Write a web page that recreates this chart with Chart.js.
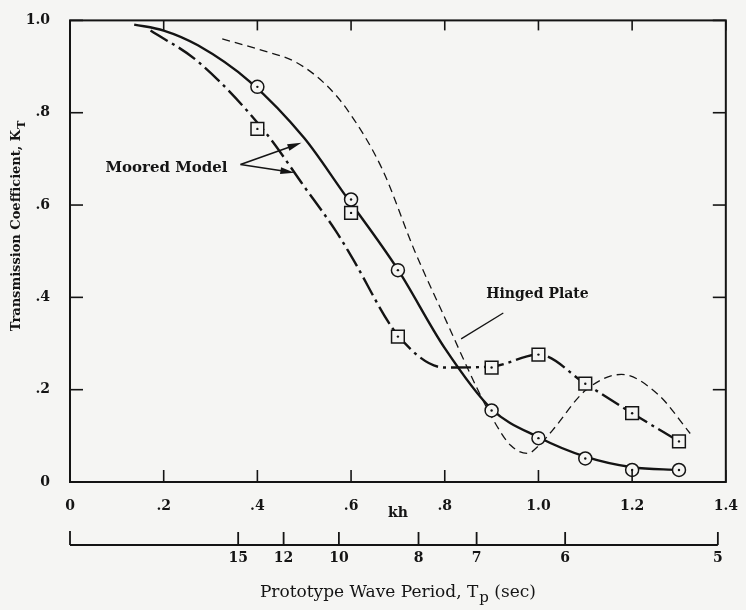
<!DOCTYPE html>
<html>
<head>
<meta charset="utf-8">
<script src="https://cdn.jsdelivr.net/npm/chart.js@4.4.1/dist/chart.umd.min.js"></script>
<style>
  html, body { margin: 0; padding: 0; background: #f5f5f3; }
</style>
</head>
<body>
<canvas id="chart" width="746" height="610"></canvas>
<script>
// measured points (kh, K_T)
const markKh = [0.4, 0.6, 0.7, 0.9, 1.0, 1.1, 1.2, 1.3];
const circleKT = [0.856, 0.612, 0.459, 0.155, 0.095, 0.051, 0.026, 0.026];
const squareKT = [0.765, 0.583, 0.315, 0.248, 0.276, 0.213, 0.149, 0.088];

// faired curves
const solidKh = [0.137, 0.2, 0.273, 0.383, 0.5, 0.582, 0.7, 0.8, 0.9, 1.0, 1.1, 1.2, 1.3];
const solidKT = [0.991, 0.978, 0.946, 0.868, 0.745, 0.629, 0.46, 0.29, 0.158, 0.097, 0.055, 0.032, 0.026];

const dashDotKh = [0.172, 0.273, 0.416, 0.5, 0.568, 0.6, 0.7, 0.8, 0.9, 1.0, 1.1, 1.2, 1.3];
const dashDotKT = [0.978, 0.911, 0.759, 0.64, 0.543, 0.49, 0.318, 0.248, 0.25, 0.276, 0.213, 0.149, 0.088];

const hingedKh = [0.325, 0.4, 0.483, 0.547, 0.595, 0.666, 0.736, 0.8, 0.868, 0.904, 0.94, 0.977, 1.0, 1.03, 1.1, 1.177, 1.255, 1.324];
const hingedKT = [0.96, 0.938, 0.909, 0.86, 0.802, 0.679, 0.5, 0.356, 0.205, 0.134, 0.08, 0.062, 0.078, 0.112, 0.198, 0.233, 0.19, 0.105];

// second scale: prototype wave period (sec) at its kh position
const periodSec = [15, 12, 10, 8, 7, 6, 5];
const periodKh = [0.359, 0.456, 0.574, 0.744, 0.868, 1.057, 1.383];

const ink = '#141414';
const serif = '"DejaVu Serif", serif';

const pts = (xs, ys) => xs.map((v, i) => ({ x: v, y: ys[i] }));
const fmt = v => {
    const r = Math.round(v * 10) / 10;
    if (r === 0) return '0';
    const s = r.toFixed(1);
    return r < 1 ? s.slice(1) : s;
};

// text with a subscript in the middle, centered on x
function subText(ctx, main, sub, tail, x, y, font, subFont) {
    ctx.font = font;
    const w1 = ctx.measureText(main).width;
    const w3 = ctx.measureText(tail).width;
    ctx.font = subFont;
    const w2 = ctx.measureText(sub).width;
    const left = x - (w1 + w2 + w3 + 1) / 2;
    ctx.textAlign = 'left';
    ctx.textBaseline = 'middle';
    ctx.font = font;
    ctx.fillText(main, left, y);
    ctx.fillText(tail, left + w1 + w2 + 1, y);
    ctx.font = subFont;
    ctx.fillText(sub, left + w1 + 1, y + 5);
}

function arrow(ctx, x1, y1, x2, y2) {
    const ang = Math.atan2(y2 - y1, x2 - x1);
    ctx.beginPath();
    ctx.moveTo(x1, y1);
    ctx.lineTo(x2 - 8 * Math.cos(ang), y2 - 8 * Math.sin(ang));
    ctx.stroke();
    ctx.beginPath();
    ctx.moveTo(x2, y2);
    ctx.lineTo(x2 - 14 * Math.cos(ang) + 3.5 * Math.sin(ang), y2 - 14 * Math.sin(ang) - 3.5 * Math.cos(ang));
    ctx.lineTo(x2 - 14 * Math.cos(ang) - 3.5 * Math.sin(ang), y2 - 14 * Math.sin(ang) + 3.5 * Math.cos(ang));
    ctx.closePath();
    ctx.fill();
}

const figurePlugin = {
    id: 'figure',
    beforeDraw(chart) {
        const { ctx, width, height } = chart;
        ctx.save();
        ctx.fillStyle = '#f5f5f3';
        ctx.fillRect(0, 0, width, height);
        ctx.restore();
    },
    afterDraw(chart) {
        const { ctx, chartArea: a, scales: { x, y } } = chart;
        const line = (x1, y1, x2, y2) => { ctx.beginPath(); ctx.moveTo(x1, y1); ctx.lineTo(x2, y2); ctx.stroke(); };
        ctx.save();
        ctx.strokeStyle = ink;
        ctx.fillStyle = ink;

        // frame with inward ticks
        ctx.lineWidth = 2;
        ctx.strokeRect(a.left, a.top, a.right - a.left, a.bottom - a.top);
        ctx.lineWidth = 1.6;
        x.ticks.forEach(t => {
            const px = x.getPixelForValue(t.value);
            line(px, a.bottom, px, a.bottom - 12);
            line(px, a.top, px, a.top + 10);
        });
        y.ticks.forEach(t => {
            const py = y.getPixelForValue(t.value);
            line(a.left, py, a.left + 13, py);
            line(a.right, py, a.right - 13, py);
        });

        // prototype wave period scale
        const axY = a.bottom + 63;
        ctx.lineWidth = 1.8;
        line(x.getPixelForValue(0), axY, x.getPixelForValue(periodKh[periodKh.length - 1]), axY);
        line(x.getPixelForValue(0), axY, x.getPixelForValue(0), axY - 14);
        ctx.font = 'bold 14px ' + serif;
        ctx.textAlign = 'center';
        ctx.textBaseline = 'middle';
        periodKh.forEach((k, i) => {
            const px = x.getPixelForValue(k);
            line(px, axY, px, axY - 13);
            ctx.fillText(String(periodSec[i]), px, axY + 13);
        });

        // axis titles
        ctx.font = 'bold 14px ' + serif;
        ctx.fillText('kh', (a.left + a.right) / 2, a.bottom + 31);
        subText(ctx, 'Prototype Wave Period, T', 'p', ' (sec)', (a.left + a.right) / 2, a.bottom + 111,
            '17px ' + serif, '15px ' + serif);

        ctx.save();
        ctx.translate(17, 226);
        ctx.rotate(-Math.PI / 2);
        subText(ctx, 'Transmission Coefficient, K', 'T', '', 0, 0, 'bold 13px ' + serif, 'bold 11px ' + serif);
        ctx.restore();

        // annotations
        ctx.font = 'bold 15px ' + serif;
        ctx.textAlign = 'center';
        ctx.textBaseline = 'middle';
        ctx.fillText('Moored Model', x.getPixelForValue(0.206), y.getPixelForValue(0.679));
        ctx.lineWidth = 1.6;
        const ox = x.getPixelForValue(0.364), oy = y.getPixelForValue(0.688);
        arrow(ctx, ox, oy, x.getPixelForValue(0.494), y.getPixelForValue(0.735));
        arrow(ctx, ox, oy, x.getPixelForValue(0.479), y.getPixelForValue(0.670));

        ctx.font = 'bold 14px ' + serif;
        ctx.fillText('Hinged Plate', x.getPixelForValue(0.998), y.getPixelForValue(0.407));
        ctx.lineWidth = 1.3;
        line(x.getPixelForValue(0.925), y.getPixelForValue(0.366), x.getPixelForValue(0.835), y.getPixelForValue(0.31));
        ctx.restore();
    }
};

const curve = (data, width, dash, order) => ({
    data, borderColor: ink, borderWidth: width, borderDash: dash,
    pointRadius: 0, showLine: true, fill: false,
    cubicInterpolationMode: 'monotone', order
});

new Chart(document.getElementById('chart'), {
    type: 'scatter',
    data: {
        datasets: [
            curve(pts(hingedKh, hingedKT), 1.3, [8, 5], 5),
            curve(pts(dashDotKh, dashDotKT), 2.4, [20, 5, 3, 5], 4),
            curve(pts(solidKh, solidKT), 2.4, [], 3),
            {
                data: pts(markKh, circleKT), pointStyle: 'circle', pointRadius: 6.5,
                backgroundColor: '#f5f5f3', borderColor: ink, borderWidth: 1.5, order: 2
            },
            {
                data: pts(markKh, squareKT), pointStyle: 'rect', pointRadius: 9,
                backgroundColor: '#f5f5f3', borderColor: ink, borderWidth: 1.5, order: 2
            },
            {
                data: pts(markKh, circleKT).concat(pts(markKh, squareKT)), pointStyle: 'circle',
                pointRadius: 1.2, backgroundColor: ink, borderWidth: 0, order: 1
            }
        ]
    },
    options: {
        responsive: false,
        animation: false,
        layout: { padding: { left: 0, right: 10, top: 18, bottom: 0 } },
        plugins: { legend: { display: false }, tooltip: { enabled: false } },
        scales: {
            x: {
                type: 'linear', min: 0, max: 1.4,
                grid: { display: false }, border: { display: false },
                afterFit: s => { s.height = 128; },
                ticks: {
                    stepSize: 0.2, padding: 8, color: ink, maxRotation: 0,
                    font: { family: serif, size: 14, weight: 'bold' },
                    callback: v => fmt(v)
                }
            },
            y: {
                min: 0, max: 1,
                grid: { display: false }, border: { display: false },
                afterFit: s => { s.width = 70; },
                ticks: {
                    stepSize: 0.2, padding: 12, color: ink,
                    font: { family: serif, size: 14, weight: 'bold' },
                    callback: v => fmt(v)
                }
            }
        }
    },
    plugins: [figurePlugin]
});
</script>
</body>
</html>
